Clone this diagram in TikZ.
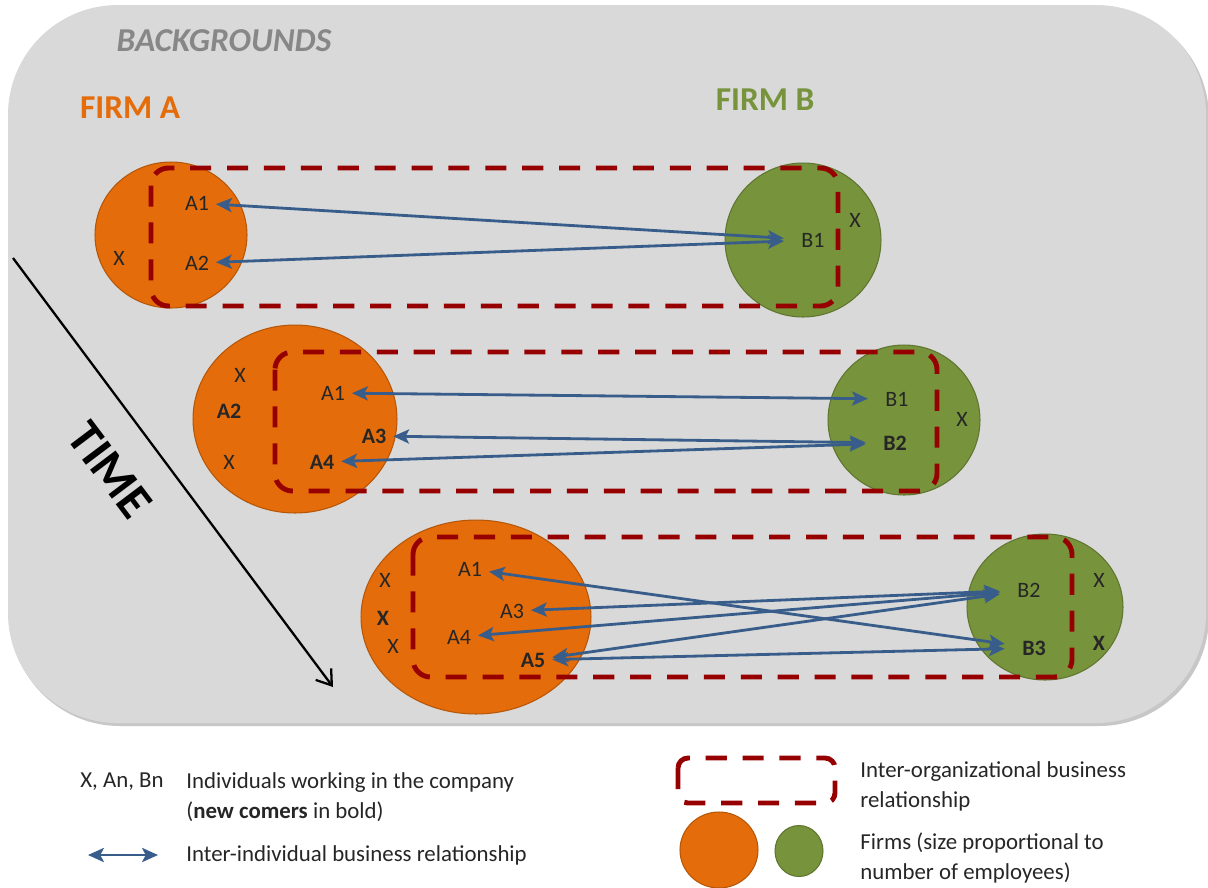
\documentclass[tikz,border=0pt]{standalone}
\usepackage{fontspec}
\setmainfont{Carlito}
\usetikzlibrary{arrows.meta,shapes.geometric}

\definecolor{firmorange}{RGB}{228,108,10}
\definecolor{firmgreen}{RGB}{119,147,60}
\definecolor{boxred}{RGB}{150,0,0}
\definecolor{linkblue}{RGB}{56,93,138}
\definecolor{bggray}{RGB}{217,217,217}
\definecolor{titlegray}{RGB}{135,135,135}

\tikzset{
  firma/.style={ellipse, fill=firmorange, draw=firmorange!80!black, line width=0.6pt, inner sep=0pt},
  firmb/.style={ellipse, fill=firmgreen, draw=firmgreen!80!black, line width=0.6pt, inner sep=0pt},
  orgbox/.style={draw=boxred, line width=2.8pt, dash pattern=on 12pt off 9pt, rounded corners=0.35cm},
  person/.style={inner sep=2pt, outer sep=2pt, font=\fontsize{12.5}{14}\selectfont, text=black!85},
  newcomer/.style={person, font=\fontsize{12.5}{14}\selectfont\bfseries},
  partner/.style={person, outer sep=8pt},
  partnernew/.style={newcomer, outer sep=8pt},
  legendtext/.style={anchor=west, align=left, inner sep=0pt, font=\fontsize{13}{17}\selectfont, text=black!85},
}

\begin{document}
\begin{tikzpicture}[x=0.02cm, y=-0.02cm]
  \useasboundingbox (0,0) rectangle (1208,887);
  \fill[white] (0,0) rectangle (1208,887);

  % background panel
  \fill[black!22, rounded corners=2.2cm] (10,8) rectangle (1209,726);
  \fill[bggray, rounded corners=2.2cm] (8,5) rectangle (1206,723);

  \node[font=\fontsize{19}{21}\selectfont\bfseries\itshape, text=titlegray] (bg) at (224,41) {BACKGROUNDS};
  \node[font=\fontsize{19}{21}\selectfont\bfseries, text=firmorange] (firmA) at (130,108) {FIRM A};
  \node[font=\fontsize{19}{21}\selectfont\bfseries, text=firmgreen] (firmB) at (765,100) {FIRM B};

  % firms
  \node[firma, minimum width=3.04cm, minimum height=2.92cm] (fa1) at (171,235) {};
  \node[firmb, minimum width=3.12cm, minimum height=3.08cm] (fb1) at (803,240) {};
  \node[firma, minimum width=4.08cm, minimum height=3.76cm] (fa2) at (295,419) {};
  \node[firmb, minimum width=3.04cm, minimum height=3.00cm] (fb2) at (904,420) {};
  \node[firma, minimum width=4.60cm, minimum height=3.88cm] (fa3) at (476,617) {};
  \node[firmb, minimum width=3.12cm, minimum height=2.92cm] (fb3) at (1045,607) {};

  % inter-organizational relationships
  \draw[orgbox] (151,168) rectangle (838,306);
  \draw[orgbox] (275,352) rectangle (937,491);
  \draw[orgbox] (413,537) rectangle (1072,677);

  % individuals
  \node[person]     (r1x)  at (119,258) {X};
  \node[person]     (r1a1) at (197,203) {A1};
  \node[person]     (r1a2) at (197,263) {A2};
  \node[partner]    (r1b1) at (813,240) {B1};
  \node[person]     (r1bx) at (855,220) {X};

  \node[person]     (r2x1) at (240,375) {X};
  \node[newcomer]   (r2a2) at (229,411) {A2};
  \node[person]     (r2x2) at (229,462) {X};
  \node[person]     (r2a1) at (333,393) {A1};
  \node[newcomer]   (r2a3) at (374,436) {A3};
  \node[newcomer]   (r2a4) at (322,462) {A4};
  \node[partner]    (r2b1) at (897,399) {B1};
  \node[partnernew] (r2b2) at (895,443) {B2};
  \node[person]     (r2bx) at (962,419) {X};

  \node[person]     (r3x1) at (385,580) {X};
  \node[newcomer]   (r3x2) at (383,618) {X};
  \node[person]     (r3x3) at (393,646) {X};
  \node[person]     (r3a1) at (470,569) {A1};
  \node[person]     (r3a3) at (512,611) {A3};
  \node[person]     (r3a4) at (459,637) {A4};
  \node[newcomer]   (r3a5) at (533,660) {A5};
  \node[partner]    (r3b2) at (1029,590) {B2};
  \node[partnernew] (r3b3) at (1034,648) {B3};
  \node[person]     (r3bx1) at (1099,580) {X};
  \node[newcomer]   (r3bx2) at (1099,643) {X};

  % inter-individual relationships
  \begin{scope}[every edge/.style={draw=linkblue, line width=1.6pt, >={Stealth[length=9pt, width=8pt, inset=2pt]}, <->}]
    \path (r1a1) edge (r1b1);
    \path (r1a2) edge (r1b1);
    \path (r2a1) edge (r2b1);
    \path (r2a3) edge (r2b2);
    \path (r2a4) edge (r2b2);
    \path (r3a1) edge (r3b3);
    \path (r3a3) edge (r3b2);
    \path (r3a4) edge (r3b2);
    \path (r3a5) edge (r3b2);
    \path (r3a5) edge (r3b3);
  \end{scope}

  % time axis
  \coordinate (tstart) at (13,258);
  \coordinate (tend) at (333,687);
  \draw[line width=1.3pt, -{Straight Barb[length=8pt, width=11pt]}] (tstart) -- (tend);
  \node[font=\fontsize{28}{30}\selectfont\bfseries, rotate=-53] (time) at (110,470) {TIME};

  % legend
  \node[anchor=west, inner sep=0pt, font=\fontsize{13}{17}\selectfont, text=black!85] (lgx) at (80,782) {X, An, Bn};
  \node[legendtext] (lgind) at (186,797) {Individuals working in the company\\(\textbf{new comers} in bold)};
  \coordinate (lgl) at (88,855);
  \coordinate (lgr) at (158,855);
  \draw[draw=linkblue, line width=1.6pt, >={Stealth[length=9pt, width=8pt, inset=2pt]}, <->] (lgl) -- (lgr);
  \node[legendtext] (lglink) at (186,855) {Inter-individual business relationship};

  \draw[orgbox, rounded corners=0.2cm] (678,758) rectangle (835,803);
  \node[legendtext] (lgorg) at (860,786) {Inter-organizational business\\relationship};
  \node[firma, minimum width=1.56cm, minimum height=1.52cm] (lgfa) at (719,850) {};
  \node[firmb, minimum width=0.96cm, minimum height=1.02cm] (lgfb) at (799,851) {};
  \node[legendtext] (lgfirm) at (860,858) {Firms (size proportional to\\number of employees)};
\end{tikzpicture}
\end{document}
